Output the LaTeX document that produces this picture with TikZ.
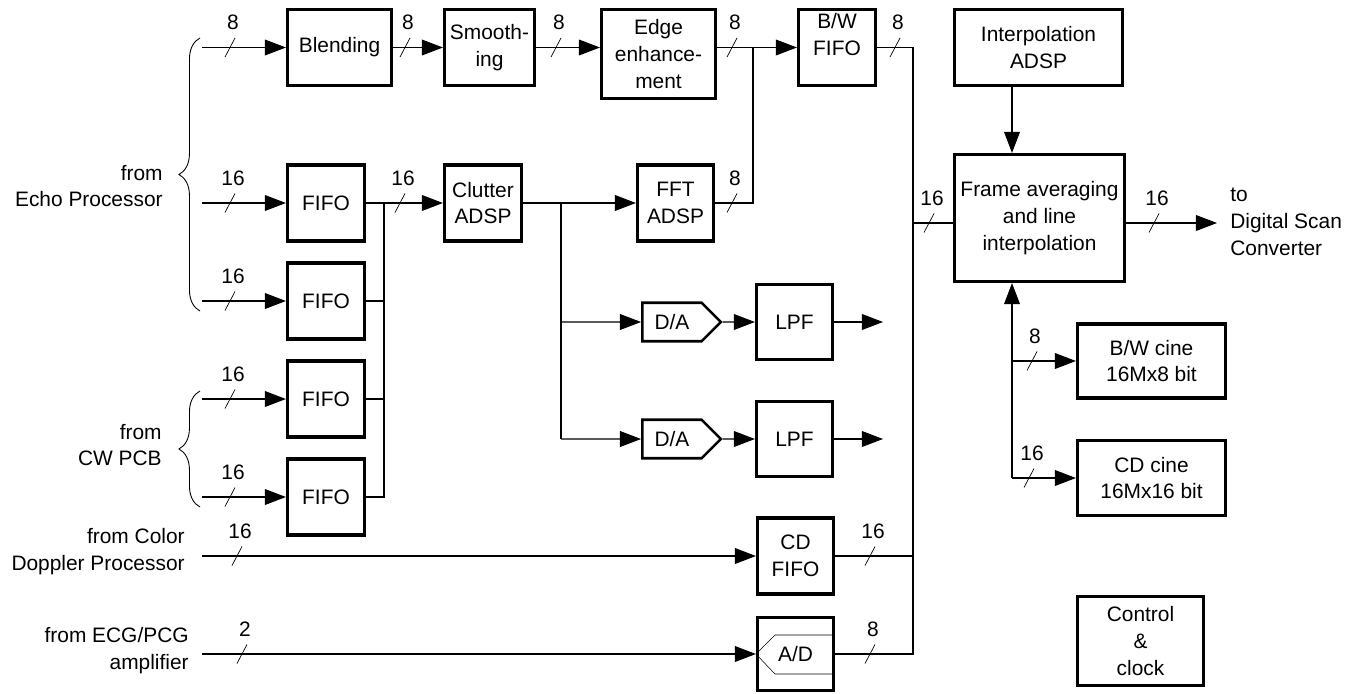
\documentclass[tikz,border=0pt]{standalone}
\usepackage{fontspec}
\setmainfont{Liberation Sans}
\usetikzlibrary{calc,arrows.meta,shapes.symbols,decorations.pathreplacing}

\tikzset{
  blk/.style={draw, line width=1.8pt, inner sep=0pt, align=center},
  conv/.style={draw, line width=1.5pt, signal, signal to=east, inner sep=0pt,
    minimum width=1.57cm, minimum height=0.77cm},
  lbl/.style={inner sep=0pt},
  wire/.style={line width=0.6pt},
  arr/.style={wire, -{Triangle[length=12pt,width=9pt]}},
  brc/.style={line width=0.5pt, decorate, decoration={brace, amplitude=12pt}},
  pics/wd/.style={code={
    \draw[line width=0.4pt] (-5,9.5) -- (5,-9.5);
    \node[lbl] (-n) at (3,-25) {#1};
  }},
}

\begin{document}
\begin{tikzpicture}[x=0.02cm, y=-0.02cm, font=\fontsize{11.9}{15.3}\selectfont]
  \useasboundingbox (0,0) rectangle (1348,693);

  % Blocks, top row
  \node[blk, minimum width=2.08cm, minimum height=1.52cm] (blend) at (339.5,47.5) {Blending};
  \node[blk, minimum width=1.8cm, minimum height=1.52cm] (smooth) at (489.5,47.5) {Smooth-\\ing};
  \node[blk, minimum width=2.28cm, minimum height=1.78cm] (edge) at (658.5,54) {Edge\\enhance-\\ment};
  \node[blk, minimum width=1.54cm, minimum height=1.52cm] (bwfifo) at (837,47.5) {B/W\\FIFO\\~};
  \node[blk, minimum width=3.36cm, minimum height=1.52cm] (interp) at (1038.5,47.5) {Interpolation\\ADSP};

  % Echo and CW FIFOs
  \node[blk, minimum width=1.54cm, minimum height=1.52cm] (fifo1) at (326,203) {FIFO};
  \node[blk, minimum width=1.54cm, minimum height=1.52cm] (fifo2) at (326,301) {FIFO};
  \node[blk, minimum width=1.54cm, minimum height=1.52cm] (fifo3) at (326,399) {FIFO};
  \node[blk, minimum width=1.54cm, minimum height=1.52cm] (fifo4) at (326,497) {FIFO};

  % Doppler path
  \node[blk, minimum width=1.54cm, minimum height=1.52cm] (clutter) at (483,203) {Clutter\\ADSP};
  \node[blk, minimum width=1.52cm, minimum height=1.52cm] (fft) at (675.5,203) {FFT\\ADSP};
  \node[conv] (da1) at (672,322) {D/A};
  \node[conv] (da2) at (672,439) {D/A};
  \node[blk, minimum width=1.52cm, minimum height=1.5cm] (lpf1) at (794.5,322) {LPF};
  \node[blk, minimum width=1.52cm, minimum height=1.5cm] (lpf2) at (794.5,439) {LPF};

  % Color Doppler and ECG
  \node[blk, minimum width=1.52cm, minimum height=1.52cm] (cdfifo) at (795.5,556) {CD\\FIFO};
  \node[blk, minimum width=1.52cm, minimum height=1.46cm] (ad) at (795.5,654) {A/D};

  % Right side
  \node[blk, minimum width=3.4cm, minimum height=2.54cm] (frame) at (1039.5,218) {Frame averaging\\and line\\interpolation};
  \node[blk, minimum width=2.96cm, minimum height=1.48cm] (bwcine) at (1151.5,361) {B/W cine\\16Mx8 bit};
  \node[blk, minimum width=2.96cm, minimum height=1.5cm] (cdcine) at (1151.5,478) {CD cine\\16Mx16 bit};
  \node[blk, minimum width=2.52cm, minimum height=1.78cm] (ctrl) at (1140.5,641) {Control\\\&\\clock};

  % Source and sink texts
  \node[lbl, anchor=east, align=right] (srcEcho) at (163,186) {from\\Echo Processor};
  \node[lbl, anchor=east, align=right] (srcCw) at (162,445) {from\\CW PCB};
  \node[lbl, anchor=east, align=right] (srcCd) at (185,552) {from Color\\Doppler Processor};
  \node[lbl, anchor=east, align=right] (srcEcg) at (189,651) {from ECG/PCG\\amplifier};
  \node[lbl, anchor=west, align=left] (dsc) at (1230,222) {to\\Digital Scan\\Converter};

  % Braces
  \draw[brc] (200,311) -- (200,38);
  \draw[brc] (200,507) -- (200,391);

  % Free ends and junctions
  \coordinate (inBl) at (202,47.5);
  \coordinate (inF1) at (202,203);
  \coordinate (inF2) at (202,301);
  \coordinate (inF3) at (202,399);
  \coordinate (inF4) at (202,497);
  \coordinate (inCd) at (202,556);
  \coordinate (inEcg) at (202,654);
  \coordinate (jF) at (384,203);
  \coordinate (jCl) at (561,203);
  \coordinate (jEdge) at (753,47.5);
  \coordinate (busTop) at (913,47.5);
  \coordinate (busBot) at (913,654);
  \coordinate (busFr) at (913,223);
  \coordinate (outFr) at (1217,223);
  \coordinate (jCine) at (1012,478);
  \coordinate (outL1) at (883,322);
  \coordinate (outL2) at (883,439);

  % Top chain
  \draw[arr] (inBl) -- (blend);
  \draw[arr] (blend) -- (smooth);
  \draw[arr] (smooth.east) -- (smooth.east -| edge.west);
  \draw[arr] (edge.east |- bwfifo.west) -- (bwfifo.west);
  \draw[wire] (fft) -- (fft -| jEdge) -- (jEdge);

  % FIFO inputs and outputs
  \draw[arr] (inF1) -- (fifo1);
  \draw[arr] (inF2) -- (fifo2);
  \draw[arr] (inF3) -- (fifo3);
  \draw[arr] (inF4) -- (fifo4);
  \draw[arr] (fifo1) -- (clutter);
  \draw[wire] (jF) -- (jF |- fifo4) -- (fifo4);
  \draw[wire] (fifo2) -- (fifo2 -| jF);
  \draw[wire] (fifo3) -- (fifo3 -| jF);

  % Clutter branches
  \draw[arr] (clutter) -- (fft);
  \draw[wire] (jCl) -- (jCl |- da2);
  \draw[arr] (jCl |- da1) -- (da1);
  \draw[arr] (jCl |- da2) -- (da2);
  \draw[arr] (da1) -- (lpf1);
  \draw[arr] (da2) -- (lpf2);
  \draw[arr] (lpf1) -- (outL1);
  \draw[arr] (lpf2) -- (outL2);

  % Color Doppler and ECG inputs
  \draw[arr] (inCd) -- (cdfifo);
  \draw[arr] (inEcg) -- (ad);
  \draw[line width=0.3pt] ($(ad.east)+(0,-19)$) -- ($(ad.west)+(19,-19)$) -- (ad.west)
    -- ($(ad.west)+(19,20)$) -- ($(ad.east)+(0,20)$);

  % Bus to frame averaging
  \draw[wire] (bwfifo) -- (busTop) -- (busBot) -- (ad);
  \draw[wire] (cdfifo) -- (cdfifo -| busTop);
  \draw[wire] (busFr) -- (busFr -| frame.west);
  \draw[arr] (busFr -| frame.east) -- (outFr);

  % Interpolation and cine memories
  \draw[arr] (interp.south -| jCine) -- (frame.north -| jCine);
  \draw[arr] (jCine) -- (frame.south -| jCine);
  \draw[arr] (jCine |- bwcine) -- (bwcine);
  \draw[arr] (jCine) -- (cdcine);

  % Bus widths
  \pic (w1) at (230,47.5) {wd=8};
  \pic (w2) at (405,47.5) {wd=8};
  \pic (w3) at (556,47.5) {wd=8};
  \pic (w4) at (732,47.5) {wd=8};
  \pic (w5) at (895,47.5) {wd=8};
  \pic (w6) at (732,203) {wd=8};
  \pic (w7) at (230,203) {wd=16};
  \pic (w8) at (230,301) {wd=16};
  \pic (w9) at (400,203) {wd=16};
  \pic (w10) at (230,399) {wd=16};
  \pic (w11) at (230,497) {wd=16};
  \pic (w12) at (237,556) {wd=16};
  \pic (w13) at (242,654) {wd=2};
  \pic (w14) at (870,556) {wd=16};
  \pic (w15) at (870,654) {wd=8};
  \pic (w16) at (929,223) {wd=16};
  \pic (w17) at (1154,223) {wd=16};
  \pic (w18) at (1032,361) {wd=8};
  \pic (w19) at (1029,478) {wd=16};
\end{tikzpicture}
\end{document}
